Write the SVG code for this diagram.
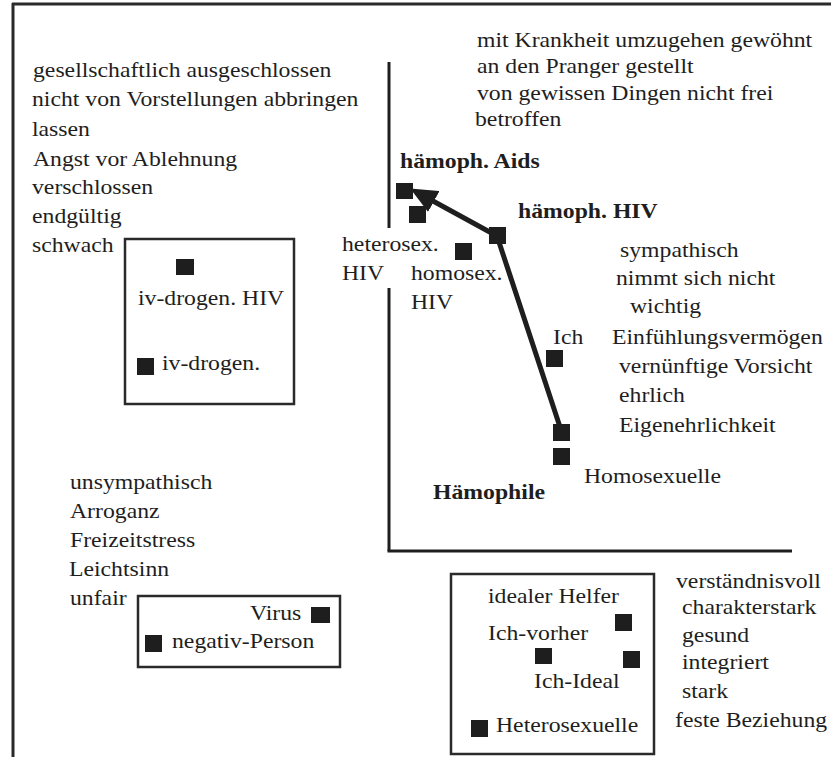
<svg xmlns="http://www.w3.org/2000/svg" width="831" height="757" viewBox="0 0 831 757">
<style>
text{font-family:Liberation Serif,Tinos,Times New Roman,Times,serif;font-size:21px;fill:#1e1e1e}
.b{font-weight:bold}
.sq{fill:#1e1e1e}
.frame{stroke:#2a2a2a;stroke-width:3;fill:none}
.axis{stroke:#1e1e1e;stroke-width:3;fill:none}
.box{stroke:#2a2a2a;stroke-width:2.5;fill:none}
.conn{stroke:#1e1e1e;stroke-width:5;fill:none;stroke-linejoin:miter}
</style>
<defs>
<marker id="ah" markerUnits="userSpaceOnUse" markerWidth="27" markerHeight="24" viewBox="0 0 27 24" refX="1" refY="12" orient="auto">
<path d="M0,0 L27,12 L0,24 z" fill="#1e1e1e"/>
</marker>
</defs>
<g id="frame">
<line class="frame" x1="12" y1="4" x2="831" y2="4"/>
<line class="frame" x1="13" y1="3" x2="13" y2="757"/>
</g>
<g id="axes">
<line class="axis" x1="389" y1="62" x2="389" y2="228"/>
<line class="axis" x1="389" y1="288" x2="389" y2="551"/>
<line class="axis" x1="387.5" y1="551" x2="792" y2="551"/>
</g>
<g id="connectors">
<path class="conn" d="M561,430 L497,236 L433,201" marker-end="url(#ah)"/>
</g>
<g font-family="Liberation Serif, Times New Roman, serif">
<g id="list-top-left">
<text transform="translate(33,77) scale(1.13,1)">gesellschaftlich ausgeschlossen</text>
<text transform="translate(32,106) scale(1.13,1)">nicht von Vorstellungen abbringen</text>
<text transform="translate(32,136) scale(1.13,1)">lassen</text>
<text transform="translate(33,166) scale(1.13,1)">Angst vor Ablehnung</text>
<text transform="translate(32,194) scale(1.13,1)">verschlossen</text>
<text transform="translate(32,223) scale(1.13,1)">endgültig</text>
<text transform="translate(32,252) scale(1.13,1)">schwach</text>
</g>
<g id="list-top-right">
<text transform="translate(477,47) scale(1.13,1)">mit Krankheit umzugehen gewöhnt</text>
<text transform="translate(477,73) scale(1.13,1)">an den Pranger gestellt</text>
<text transform="translate(477,100) scale(1.13,1)">von gewissen Dingen nicht frei</text>
<text transform="translate(475,126) scale(1.13,1)">betroffen</text>
</g>
<g id="node-haemoph-aids">
<rect class="sq" x="396" y="183" width="17" height="16"/>
<text class="b" transform="translate(400,168) scale(1.13,1)">hämoph. Aids</text>
</g>
<g id="node-heterosex-hiv">
<rect class="sq" x="409" y="206" width="17" height="17"/>
<text transform="translate(342,251) scale(1.13,1)">heterosex.</text>
<text transform="translate(342,280) scale(1.13,1)">HIV</text>
</g>
<g id="node-haemoph-hiv">
<rect class="sq" x="489" y="227" width="17" height="17"/>
<text class="b" transform="translate(518,218) scale(1.13,1)">hämoph. HIV</text>
</g>
<g id="node-homosex-hiv">
<rect class="sq" x="455" y="243" width="17" height="17"/>
<text transform="translate(411,280) scale(1.13,1)">homosex.</text>
<text transform="translate(411,309) scale(1.13,1)">HIV</text>
</g>
<g id="list-right">
<text transform="translate(620,257) scale(1.13,1)">sympathisch</text>
<text transform="translate(616,285) scale(1.13,1)">nimmt sich nicht</text>
<text transform="translate(630,313) scale(1.13,1)">wichtig</text>
<text transform="translate(612,344) scale(1.13,1)">Einfühlungsvermögen</text>
<text transform="translate(619,373) scale(1.13,1)">vernünftige Vorsicht</text>
<text transform="translate(619,402) scale(1.13,1)">ehrlich</text>
<text transform="translate(619,432) scale(1.13,1)">Eigenehrlichkeit</text>
</g>
<g id="node-ich">
<rect class="sq" x="546" y="350" width="17" height="17"/>
<text transform="translate(553,344) scale(1.13,1)">Ich</text>
</g>
<g id="node-haemophile">
<rect class="sq" x="553" y="424" width="17" height="17"/>
<text class="b" transform="translate(433,499) scale(1.13,1)">Hämophile</text>
</g>
<g id="node-homosexuelle">
<rect class="sq" x="553" y="448" width="17" height="17"/>
<text transform="translate(584,483) scale(1.13,1)">Homosexuelle</text>
</g>
<g id="box-ivdrogen">
<rect class="box" x="125" y="239" width="169" height="165"/>
<g id="node-ivdrogen-hiv">
<rect class="sq" x="176" y="259" width="18" height="16"/>
<text transform="translate(138,305) scale(1.13,1)">iv-drogen. HIV</text>
</g>
<g id="node-ivdrogen">
<rect class="sq" x="137" y="358" width="17" height="17"/>
<text transform="translate(162,370) scale(1.13,1)">iv-drogen.</text>
</g>
</g>
<g id="list-bottom-left">
<text transform="translate(70,489) scale(1.13,1)">unsympathisch</text>
<text transform="translate(70,518) scale(1.13,1)">Arroganz</text>
<text transform="translate(70,547) scale(1.13,1)">Freizeitstress</text>
<text transform="translate(69,576) scale(1.13,1)">Leichtsinn</text>
<text transform="translate(70,605) scale(1.13,1)">unfair</text>
</g>
<g id="box-virus">
<rect class="box" x="138" y="596" width="202" height="71"/>
<g id="node-virus">
<rect class="sq" x="311" y="607" width="19" height="16"/>
<text transform="translate(250,620) scale(1.13,1)">Virus</text>
</g>
<g id="node-negativ-person">
<rect class="sq" x="145" y="635" width="17" height="17"/>
<text transform="translate(172,648) scale(1.13,1)">negativ-Person</text>
</g>
</g>
<g id="box-ideal">
<rect class="box" x="451" y="574" width="203" height="180"/>
<g id="node-idealer-helfer">
<rect class="sq" x="615" y="614" width="17" height="17"/>
<text transform="translate(488,603) scale(1.13,1)">idealer Helfer</text>
</g>
<g id="node-ich-vorher">
<rect class="sq" x="535" y="648" width="17" height="16"/>
<text transform="translate(488,640) scale(1.13,1)">Ich-vorher</text>
</g>
<g id="node-ich-ideal">
<rect class="sq" x="623" y="651" width="17" height="17"/>
<text transform="translate(534,688) scale(1.13,1)">Ich-Ideal</text>
</g>
<g id="node-heterosexuelle">
<rect class="sq" x="471" y="720" width="17" height="17"/>
<text transform="translate(496,732) scale(1.13,1)">Heterosexuelle</text>
</g>
</g>
<g id="list-bottom-right">
<text transform="translate(676,588) scale(1.13,1)">verständnisvoll</text>
<text transform="translate(682,614) scale(1.13,1)">charakterstark</text>
<text transform="translate(682,642) scale(1.13,1)">gesund</text>
<text transform="translate(682,669) scale(1.13,1)">integriert</text>
<text transform="translate(682,698) scale(1.13,1)">stark</text>
<text transform="translate(675,727) scale(1.13,1)">feste Beziehung</text>
</g>
</g>
</svg>
